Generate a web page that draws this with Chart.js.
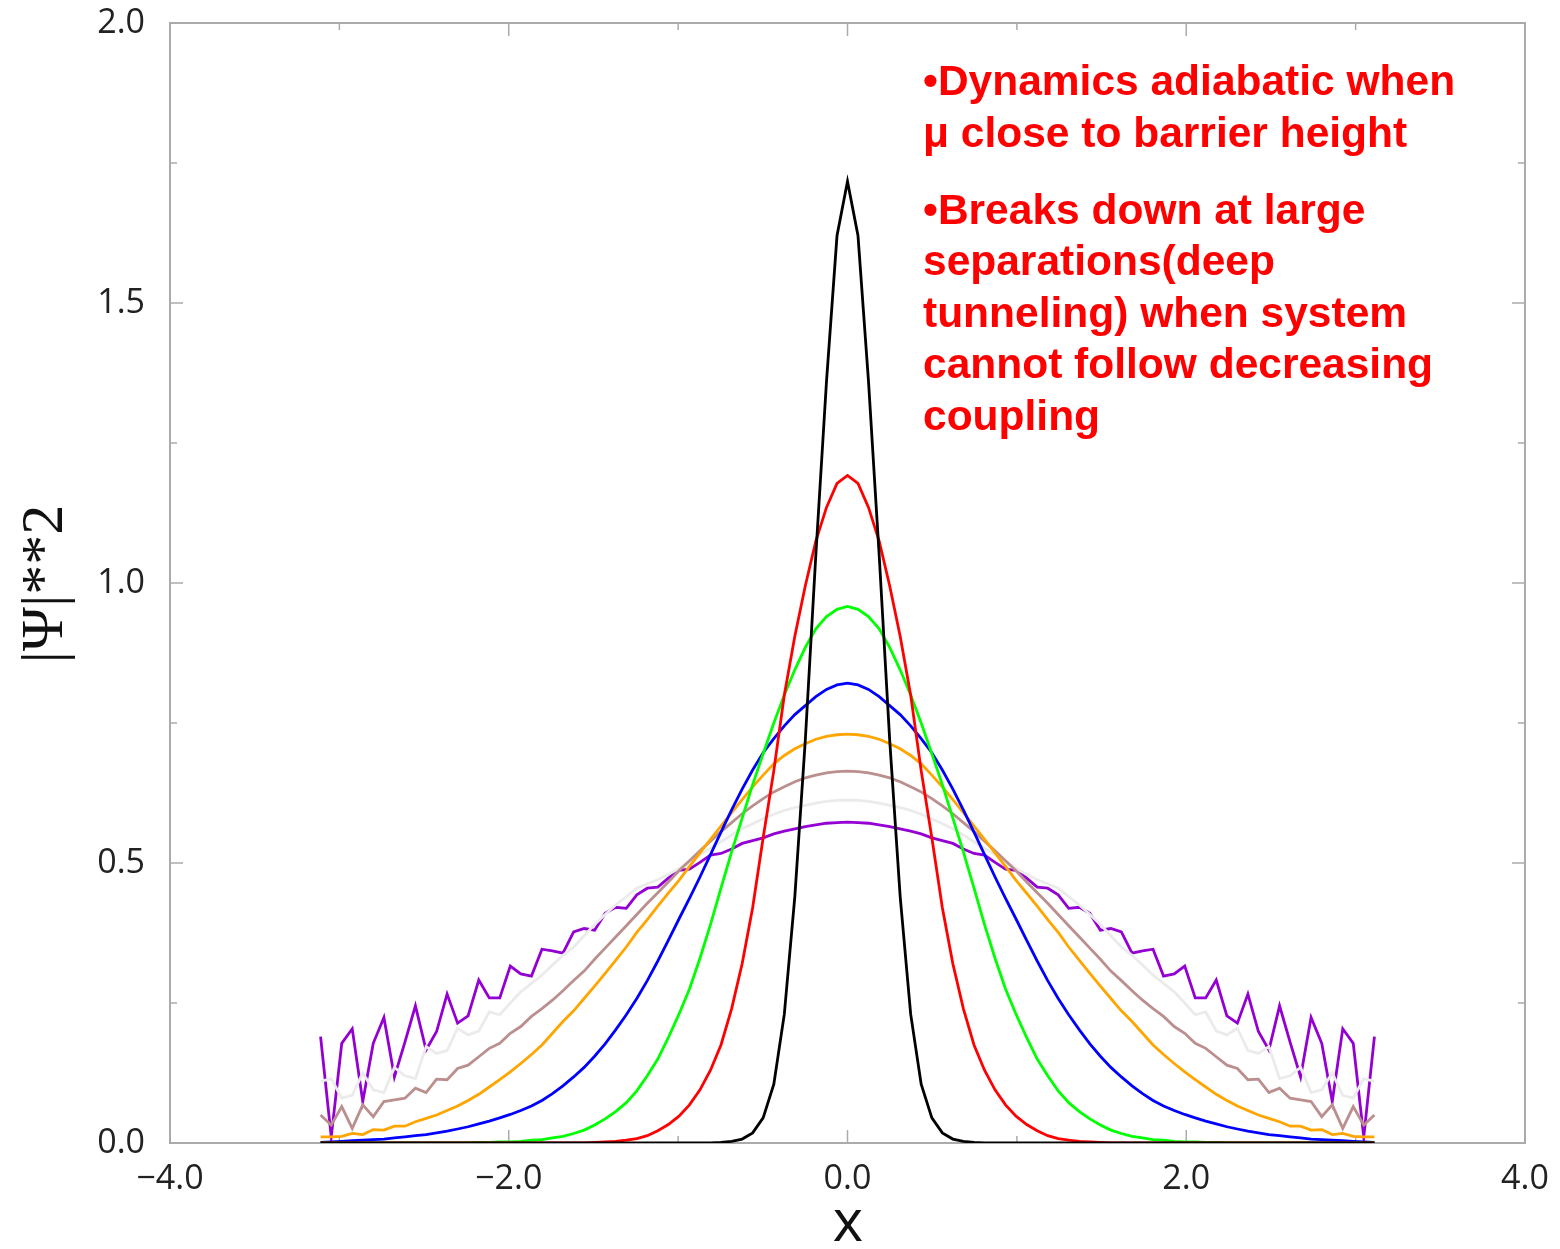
<!DOCTYPE html>
<html>
<head>
<meta charset="utf-8">
<script src="https://cdn.jsdelivr.net/npm/chart.js@4.4.0/dist/chart.umd.min.js"></script>
<style>
  html, body { margin: 0; padding: 0; background: #fff; }
</style>
</head>
<body>
<canvas id="grafico1" width="1560" height="1249"></canvas>
<script>
// malla x (101 puntos, -3.11 .. 3.11)
const posX = [
  -3.111,-3.048,-2.986,-2.924,-2.862,-2.800,-2.737,-2.675,-2.613,-2.551,
  -2.488,-2.426,-2.364,-2.302,-2.240,-2.177,-2.115,-2.053,-1.991,-1.929,
  -1.866,-1.804,-1.742,-1.680,-1.617,-1.555,-1.493,-1.431,-1.369,-1.306,
  -1.244,-1.182,-1.120,-1.058,-0.995,-0.933,-0.871,-0.809,-0.747,-0.684,
  -0.622,-0.560,-0.498,-0.435,-0.373,-0.311,-0.249,-0.187,-0.124,-0.062,
  0,
  0.062,0.124,0.187,0.249,0.311,0.373,0.435,0.498,0.560,0.622,
  0.684,0.747,0.809,0.871,0.933,0.995,1.058,1.120,1.182,1.244,
  1.306,1.369,1.431,1.493,1.555,1.617,1.680,1.742,1.804,1.866,
  1.929,1.991,2.053,2.115,2.177,2.240,2.302,2.364,2.426,2.488,
  2.551,2.613,2.675,2.737,2.800,2.862,2.924,2.986,3.048,3.111
];

const negro = [
  0,0,0,0,0,0,0,0,0,0, 0,0,0,0,0,0,0,0,0,0, 0,0,0,0,0,0,0,0,0,0, 0,0,0,0,0,0,0,0,
  0.001,0.003,0.007,0.018,0.045,0.105,0.23,0.44,0.72,1.05,1.36,1.62,
  1.717,
  1.62,1.36,1.05,0.72,0.44,0.23,0.105,0.045,0.018,0.007,0.003,0.001,
  0,0,0,0,0,0,0,0,0,0, 0,0,0,0,0,0,0,0,0,0, 0,0,0,0,0,0,0,0,0,0, 0,0,0,0,0,0,0,0
];

const rojo = [
  0,0,0,0,0,0,0,0,0,0, 0,0,0,0,0,0,0,0,0,0, 0,0,0,0,0,0,
  0.001,0.002,0.003,0.005,0.008,0.013,0.022,0.033,0.048,0.068,0.095,0.13,
  0.175,0.24,0.32,0.42,0.545,0.665,0.80,0.905,0.995,1.075,1.135,1.178,
  1.192,
  1.178,1.135,1.075,0.995,0.905,0.80,0.665,0.545,0.42,0.32,0.24,0.175,
  0.13,0.095,0.068,0.048,0.033,0.022,0.013,0.008,0.005,0.003,0.002,0.001,
  0,0,0,0,0,0,0,0,0,0, 0,0,0,0,0,0,0,0,0,0, 0,0,0,0,0,0
];

const verde = [
  0,0,0,0,0,0,0,0,0,0, 0,0,0,0,0,
  0.001,0.001,0.002,0.002,0.003,0.005,0.006,0.009,0.012,0.017,0.023,0.032,
  0.043,0.056,0.072,0.093,0.12,0.15,0.188,0.23,0.275,0.33,0.39,0.455,0.52,
  0.58,0.64,0.695,0.75,0.80,0.845,0.885,0.918,0.94,0.953,
  0.958,
  0.953,0.94,0.918,0.885,0.845,0.80,0.75,0.695,0.64,0.58,
  0.52,0.455,0.39,0.33,0.275,0.23,0.188,0.15,0.12,0.093,0.072,0.056,0.043,
  0.032,0.023,0.017,0.012,0.009,0.006,0.005,0.003,0.002,0.002,0.001,0.001,
  0,0,0,0,0,0,0,0,0,0, 0,0,0,0,0
];

const azul = [
  0.001,0.002,0.003,0.004,0.005,0.006,0.007,0.009,0.011,0.013,
  0.015,0.018,0.021,0.025,0.029,0.034,0.039,0.045,0.051,0.058,
  0.066,0.076,0.088,0.102,0.118,0.135,0.155,0.177,0.202,0.229,
  0.258,0.29,0.325,0.362,0.40,0.437,0.475,0.515,0.555,0.595,
  0.632,0.666,0.697,0.722,0.745,0.765,0.781,0.797,0.81,0.818,
  0.821,
  0.818,0.81,0.797,0.781,0.765,0.745,0.722,0.697,0.666,0.632,
  0.595,0.555,0.515,0.475,0.437,0.40,0.362,0.325,0.29,0.258,
  0.229,0.202,0.177,0.155,0.135,0.118,0.102,0.088,0.076,0.066,
  0.058,0.051,0.045,0.039,0.034,0.029,0.025,0.021,0.018,0.015,
  0.013,0.011,0.009,0.007,0.006,0.005,0.004,0.003,0.002,0.001
];

const naranja = [
  0.011,0.011,0.012,0.017,0.015,0.024,0.023,0.030,0.030,0.038,
  0.044,0.050,0.058,0.066,0.076,0.087,0.10,0.113,0.127,0.142,
  0.158,0.175,0.196,0.217,0.236,0.258,0.28,0.303,0.326,0.35,
  0.376,0.399,0.423,0.446,0.469,0.494,0.518,0.542,0.566,0.59,
  0.613,0.636,0.657,0.677,0.692,0.704,0.713,0.721,0.726,0.729,
  0.730,
  0.729,0.726,0.721,0.713,0.704,0.692,0.677,0.657,0.636,0.613,
  0.59,0.566,0.542,0.518,0.494,0.469,0.446,0.423,0.399,0.376,
  0.35,0.326,0.303,0.28,0.258,0.236,0.217,0.196,0.175,0.158,
  0.142,0.127,0.113,0.10,0.087,0.076,0.066,0.058,0.050,0.044,
  0.038,0.030,0.030,0.023,0.024,0.015,0.017,0.012,0.011,0.011
];

const rosado = [
  0.05,0.032,0.065,0.026,0.068,0.047,0.074,0.077,0.08,0.098,
  0.09,0.114,0.113,0.133,0.139,0.154,0.169,0.178,0.196,0.208,
  0.226,0.24,0.255,0.272,0.29,0.307,0.328,0.348,0.368,0.388,
  0.408,0.428,0.447,0.466,0.486,0.504,0.522,0.539,0.556,0.572,
  0.588,0.602,0.615,0.627,0.636,0.645,0.652,0.657,0.661,0.663,
  0.664,
  0.663,0.661,0.657,0.652,0.645,0.636,0.627,0.615,0.602,0.588,
  0.572,0.556,0.539,0.522,0.504,0.486,0.466,0.447,0.428,0.408,
  0.388,0.368,0.348,0.328,0.307,0.29,0.272,0.255,0.24,0.226,
  0.208,0.196,0.178,0.169,0.154,0.139,0.133,0.113,0.114,0.09,
  0.098,0.08,0.077,0.074,0.047,0.068,0.026,0.065,0.032,0.05
];

const gris = [
  0.11,0.115,0.08,0.085,0.125,0.095,0.09,0.135,0.12,0.115,
  0.172,0.16,0.165,0.205,0.193,0.2,0.234,0.229,0.25,0.27,
  0.285,0.30,0.318,0.335,0.35,0.37,0.39,0.408,0.425,0.44,
  0.455,0.463,0.47,0.48,0.49,0.503,0.515,0.526,0.538,0.55,
  0.561,0.57,0.579,0.587,0.594,0.599,0.603,0.607,0.61,0.612,
  0.6125,
  0.612,0.61,0.607,0.603,0.599,0.594,0.587,0.579,0.57,0.561,
  0.55,0.538,0.526,0.515,0.503,0.49,0.48,0.47,0.463,0.455,
  0.44,0.425,0.408,0.39,0.37,0.35,0.335,0.318,0.30,0.285,
  0.27,0.25,0.229,0.234,0.2,0.193,0.205,0.165,0.16,0.172,
  0.115,0.12,0.135,0.09,0.095,0.125,0.085,0.08,0.115,0.11
];

const morado = [
  0.190,0.011,0.178,0.204,0.074,0.178,0.224,0.118,0.18,0.245,
  0.166,0.199,0.266,0.214,0.227,0.291,0.259,0.259,0.316,0.302,
  0.298,0.346,0.343,0.339,0.377,0.383,0.380,0.410,0.421,0.419,
  0.443,0.455,0.457,0.473,0.487,0.489,0.501,0.514,0.517,0.525,
  0.535,0.540,0.545,0.552,0.557,0.561,0.565,0.568,0.571,0.572,
  0.573,
  0.572,0.571,0.568,0.565,0.561,0.557,0.552,0.545,0.540,0.535,
  0.525,0.517,0.514,0.501,0.489,0.487,0.473,0.457,0.455,0.443,
  0.419,0.421,0.410,0.380,0.383,0.377,0.339,0.343,0.346,0.298,
  0.302,0.316,0.259,0.259,0.291,0.227,0.214,0.266,0.199,0.166,
  0.245,0.18,0.118,0.224,0.178,0.074,0.204,0.178,0.011,0.190
];

const series = [
  { datos: negro,   color: '#000000' },
  { datos: rojo,    color: '#ff0000' },
  { datos: verde,   color: '#00ff00' },
  { datos: azul,    color: '#0000ff' },
  { datos: naranja, color: '#ffa500' },
  { datos: rosado,  color: '#bc8f8f' },
  { datos: gris,    color: '#ebebeb' },
  { datos: morado,  color: '#9400d3' }
];

const lineasTexto = [
  { t: '\u2022Dynamics adiabatic when', y: 95 },
  { t: '\u03bc close to barrier height', y: 147 },
  { t: '\u2022Breaks down at large', y: 224 },
  { t: 'separations(deep', y: 275 },
  { t: 'tunneling) when system', y: 327 },
  { t: 'cannot follow decreasing', y: 378 },
  { t: 'coupling', y: 430 }
];

const fmt = v => (v < 0 ? '\u2212' : '') + Math.abs(v).toFixed(1);

// caja y marcas hacia adentro
const marco = {
  id: 'marco',
  beforeDatasetsDraw(chart) {
    const { ctx, chartArea: a, scales: { x, y } } = chart;
    ctx.save();
    ctx.strokeStyle = '#ababab';
    ctx.lineWidth = 2;
    ctx.strokeRect(a.left, a.top, a.right - a.left, a.bottom - a.top);
    ctx.lineWidth = 1.5;
    ctx.beginPath();
    for (let v = -4; v <= 4; v += 1) {
      const px = x.getPixelForValue(v);
      const l = (v % 2 === 0) ? 13 : 7;
      ctx.moveTo(px, a.bottom); ctx.lineTo(px, a.bottom - l);
      ctx.moveTo(px, a.top); ctx.lineTo(px, a.top + l);
    }
    for (let v = 0; v <= 2.0001; v += 0.25) {
      const py = y.getPixelForValue(v);
      const l = (Math.round(v * 4) % 2 === 0) ? 13 : 7;
      ctx.moveTo(a.left, py); ctx.lineTo(a.left + l, py);
      ctx.moveTo(a.right, py); ctx.lineTo(a.right - l, py);
    }
    ctx.stroke();
    ctx.restore();
  },
  afterDraw(chart) {
    const { ctx } = chart;
    ctx.save();
    ctx.fillStyle = '#ff0000';
    ctx.font = 'bold 42.5px "Liberation Sans", Arial, sans-serif';
    ctx.textAlign = 'left';
    ctx.textBaseline = 'alphabetic';
    lineasTexto.forEach(l => ctx.fillText(l.t, 923, l.y));

    ctx.fillStyle = '#111';
    ctx.font = '58px "Open Sans", sans-serif';
    ctx.textAlign = 'center';
    ctx.textBaseline = 'middle';
    ctx.fillText('x', 848, 1224);

    ctx.translate(46, 584);
    ctx.rotate(-Math.PI / 2);
    ctx.font = '60px "Liberation Serif", serif';
    ctx.fillText('|\u03a8|**2', 0, 0);
    ctx.restore();
  }
};

const Grafico = document.getElementById('grafico1').getContext('2d');

window.graficaPsi = new Chart(Grafico, {
  type: 'line',
  data: {
    datasets: series.map(s => ({
      data: posX.map((xv, i) => ({ x: xv, y: s.datos[i] })),
      borderColor: s.color,
      borderWidth: 2.8,
      pointRadius: 0,
      tension: 0,
      fill: false
    }))
  },
  options: {
    responsive: false,
    devicePixelRatio: 1,
    animation: false,
    layout: { padding: { top: 23, right: 35, left: 0, bottom: 0 } },
    plugins: { legend: { display: false }, tooltip: { enabled: false } },
    scales: {
      x: {
        type: 'linear', min: -4, max: 4,
        grid: { display: false, drawTicks: false },
        border: { display: false },
        ticks: {
          stepSize: 2, padding: 16, color: '#222',
          font: { family: '"Open Sans", sans-serif', size: 34 },
          callback: v => fmt(v)
        },
        afterFit: s => { s.height = 106; s.paddingLeft = 0; s.paddingRight = 0; }
      },
      y: {
        type: 'linear', min: 0, max: 2,
        grid: { display: false, drawTicks: false },
        border: { display: false },
        ticks: {
          stepSize: 0.5, padding: 25, color: '#222',
          font: { family: '"Open Sans", sans-serif', size: 34 },
          callback: v => fmt(v)
        },
        afterFit: s => { s.width = 170; s.paddingTop = 0; s.paddingBottom = 0; }
      }
    }
  },
  plugins: [marco]
});
</script>
</body>
</html>
